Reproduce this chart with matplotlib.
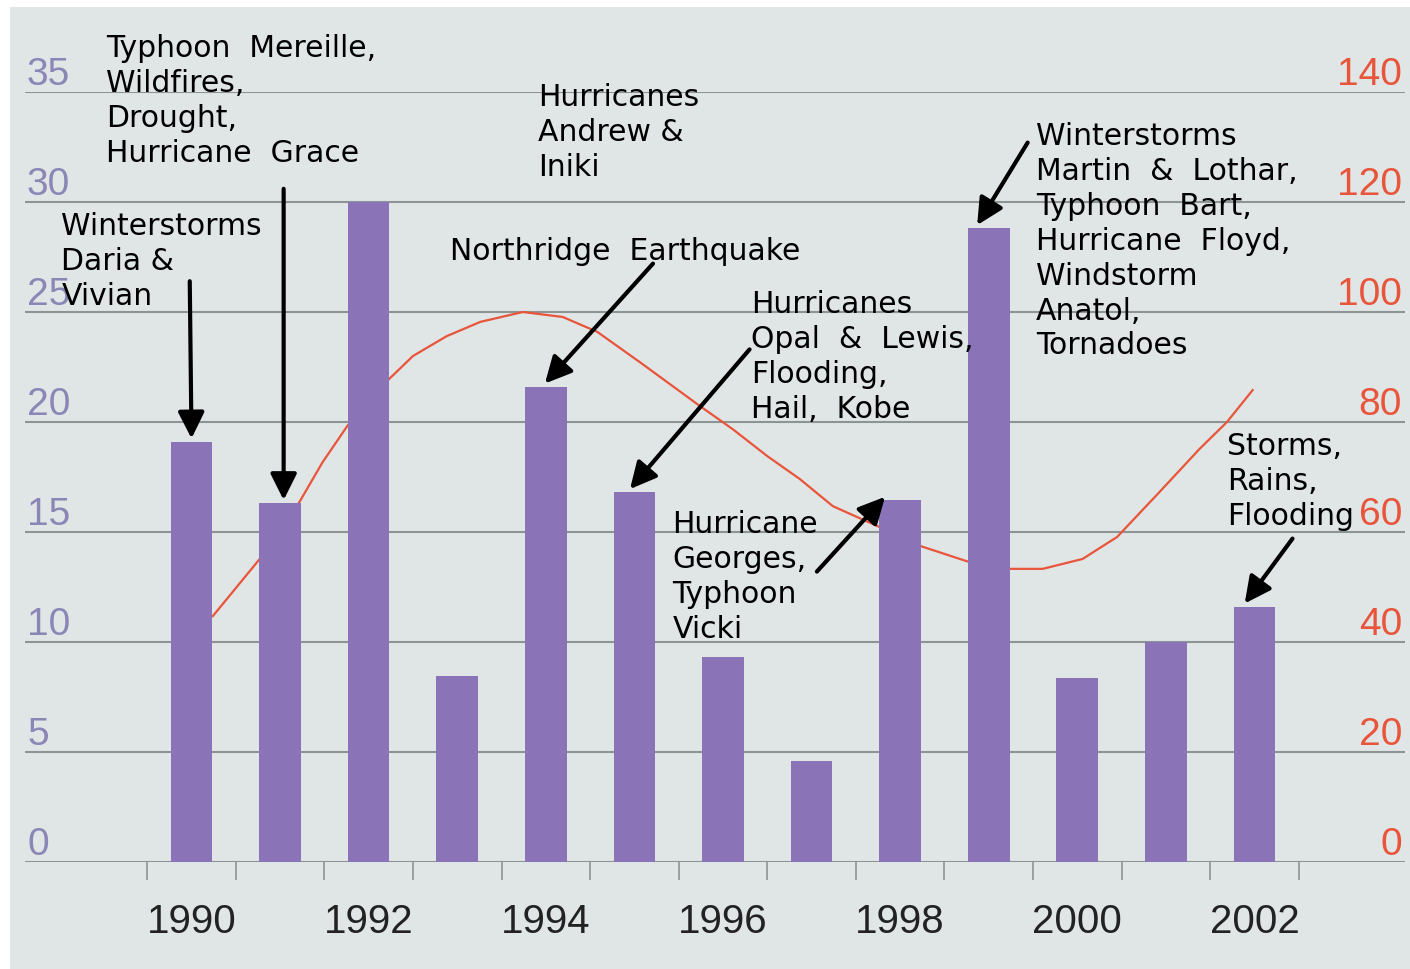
import numpy as np
import matplotlib
matplotlib.use('Agg')
import matplotlib.pyplot as plt
import matplotlib.transforms as mtransforms
from matplotlib.patches import Rectangle

# Number of great natural catastrophes per year (left axis)
years = [1990, 1991, 1992, 1993, 1994, 1995, 1996, 1997, 1998, 1999, 2000, 2001, 2002]
counts = [19.1, 16.3, 30.0, 8.45, 21.6, 16.8, 9.3, 4.6, 16.45, 28.8, 8.35, 10.0, 11.6]

# Smoothed trend curve (right axis)
curve_year = [1990.24, 1990.77, 1991.22, 1991.48, 1991.76, 1992.23, 1992.50, 1992.88,
              1993.26, 1993.74, 1994.19, 1994.58, 1995.06, 1995.74, 1996.11, 1996.50,
              1996.87, 1997.24, 1997.74, 1998.22, 1998.75, 1999.20, 1999.61, 2000.06,
              2000.45, 2000.93, 2001.38, 2001.69, 2001.98]
curve_value = [44.7, 55.1, 65.5, 72.7, 79.3, 87.8, 92.0, 95.6,
               98.2, 100.0, 99.1, 96.4, 90.9, 82.9, 78.7, 73.8,
               69.6, 64.7, 61.1, 57.5, 54.7, 53.3, 53.3, 55.1,
               59.1, 67.3, 75.1, 80.0, 85.8]

left_ticks = [0, 5, 10, 15, 20, 25, 30, 35]
right_ticks = [0, 20, 40, 60, 80, 100, 120, 140]
year_labels = [1990, 1992, 1994, 1996, 1998, 2000, 2002]

# Event notes: text, text anchor (year, left units), arrow tail, target bar, tip shift in years
notes = [
    ("Winterstorms\nDaria &\nVivian", (1988.53, 29.6), (1989.98, 26.4), 1990, 0.0),
    ("Typhoon  Mereille,\nWildfires,\nDrought,\nHurricane  Grace", (1989.04, 37.7), (1991.04, 30.6), 1991, 0.04),
    ("Hurricanes\nAndrew &\nIniki", (1993.91, 35.45), None, None, 0.0),
    ("Northridge  Earthquake", (1992.92, 28.45), (1995.21, 27.2), 1994, -0.01),
    ("Hurricanes\nOpal  &  Lewis,\nFlooding,\nHail,  Kobe", (1996.32, 26.05), (1996.30, 23.3), 1995, -0.05),
    ("Hurricane\nGeorges,\nTyphoon\nVicki", (1995.43, 16.05), (1997.06, 13.2), 1998, -0.17),
    ("Winterstorms\nMartin  &  Lothar,\nTyphoon  Bart,\nHurricane  Floyd,\nWindstorm\nAnatol,\nTornadoes", (1999.53, 33.7), (1999.44, 32.7), 1999, -0.13),
    ("Storms,\nRains,\nFlooding", (2001.69, 19.6), (2002.43, 14.7), 2002, -0.11),
]

bar_color = '#8a73b6'
line_color = '#e8553a'
grid_color = '#8c9494'
left_color = '#8a86b6'
bg_color = '#e0e5e6'

fig = plt.figure(figsize=(14.1, 9.7), dpi=100)
fig.patch.set_facecolor('white')
fig.patches.append(Rectangle((10 / 1410, 0), 1 - 10 / 1410, 962 / 970,
                             transform=fig.transFigure, facecolor=bg_color,
                             edgecolor='none', zorder=-5))

ax = fig.add_axes([25 / 1410, 107 / 970, 1380 / 1410, 770 / 970])
ax2 = ax.twinx()
ax.set_zorder(ax2.get_zorder() + 1)
ax.patch.set_visible(False)
ax2.patch.set_visible(False)

ax.set_xlim(1988.12, 2003.70)
ax.set_ylim(0, 35)
ax2.set_ylim(0, 140)

# trend line sits behind the bars
ax2.plot(curve_year, curve_value, color=line_color, lw=1.6, zorder=2)

for v in left_ticks:
    ax2.axhline(v * 4, color=grid_color, lw=1.5, zorder=1)

ax.bar(years, counts, width=0.47, color=bar_color, zorder=3)

for a in (ax, ax2):
    for s in a.spines.values():
        s.set_visible(False)
    a.set_yticks([])

ax.set_xticks(np.arange(1989.5, 2003.0, 1.0))
ax.set_xticklabels([])
ax.tick_params(axis='x', direction='out', length=13, width=1.2, color=grid_color)

# axis numbers sit just above their grid lines
tf_left = mtransforms.offset_copy(mtransforms.blended_transform_factory(ax.transAxes, ax.transData),
                                  fig=fig, x=2, y=8, units='dots')
for v in left_ticks:
    ax.text(0, v, str(v), transform=tf_left, ha='left', va='baseline',
            fontsize=28, family='Liberation Sans', color=left_color)

tf_right = mtransforms.offset_copy(mtransforms.blended_transform_factory(ax2.transAxes, ax2.transData),
                                   fig=fig, x=-3, y=8, units='dots')
for v in right_ticks:
    ax2.text(1, v, str(v), transform=tf_right, ha='right', va='baseline',
             fontsize=28, family='Liberation Sans', color=line_color)

tf_years = mtransforms.offset_copy(mtransforms.blended_transform_factory(ax.transData, ax.transAxes),
                                   fig=fig, x=0, y=-70, units='dots')
for yr in year_labels:
    ax.text(yr, 0, str(yr), transform=tf_years, ha='center', va='baseline',
            fontsize=29, family='Liberation Sans', color='#222222')

# event notes with arrows pointing at the bars
for text, pos, tail, target, dx in notes:
    ax.text(pos[0], pos[1], text, ha='left', va='top', fontsize=21.5,
            family='DejaVu Sans', color='black', linespacing=1.26,
            zorder=6, clip_on=False)
    if tail is None:
        continue
    tip = (target + dx, counts[years.index(target)] + 0.15)
    ax.annotate('', xy=tip, xytext=tail, zorder=6,
                arrowprops=dict(arrowstyle='-|>,head_length=0.8,head_width=0.4',
                                mutation_scale=20, lw=3, color='black',
                                shrinkA=0, shrinkB=0))

fig.savefig('out.png', dpi=100)
